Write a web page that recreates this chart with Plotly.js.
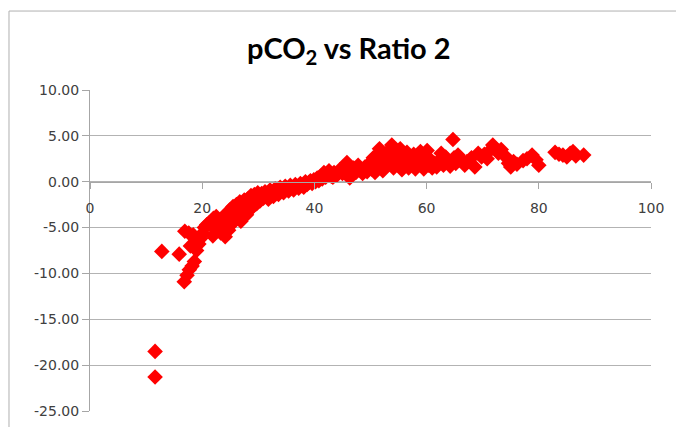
<!DOCTYPE html>
<html>
<head>
<meta charset="utf-8">
<script src="https://cdn.plot.ly/plotly-3.0.1.min.js"></script>
<style>html,body{margin:0;padding:0;background:#fff}#chart{width:676px;height:427px}</style>
</head>
<body>
<div id="chart"></div>
<script>
// Ratio 2 (x) values
var ratio2 = [
  11.6, 11.6, 12.8, 15.9, 16.8, 17.3, 17.7, 18.2, 18.6, 16.9, 17.6, 18.4, 17.9, 19.0, 19.4, 19.7, 20.1, 20.4, 20.8, 21.2, 21.6, 21.9, 22.3, 22.6, 22.0, 22.5,
  23.0, 23.3, 23.6, 23.9, 24.1, 24.3, 24.5, 24.7, 24.9, 25.1, 25.3, 25.5, 25.7, 25.9, 26.1, 26.3, 26.5, 26.7, 26.9, 27.1, 27.3, 27.5, 27.7, 27.9, 28.1, 28.3, 28.5, 28.7, 28.9, 29.1, 29.3, 29.5, 29.7, 29.9, 30.1, 30.3,
  30.6, 30.9, 31.2, 31.5, 31.8, 32.1, 32.4, 32.7, 33.0, 33.3, 33.6, 33.9, 34.2, 34.5, 34.8, 35.1, 35.4, 35.7, 36.0, 36.3, 36.6, 36.9, 37.2, 37.5, 37.8, 38.1, 38.4, 38.7, 39.0, 39.3, 39.6, 39.9, 40.2, 40.5, 40.8, 41.1, 41.4, 41.7, 42.0, 42.3, 42.6,
  43.0, 43.3, 43.5, 44.0, 44.5, 45.0, 45.5, 45.8, 46.2, 46.3, 46.6, 47.0, 47.4, 47.8, 48.2, 48.6, 49.0, 49.4, 49.8, 50.2, 50.5, 50.8,
  51.0, 51.3, 51.6, 51.9, 52.2, 52.5, 52.8, 53.1, 53.4, 53.8, 54.1, 54.4, 54.7, 55.0, 55.3, 55.6, 55.9, 56.2, 56.5, 56.8, 57.1, 57.4, 57.7, 58.0, 58.3, 58.6, 58.9, 59.2, 59.5, 59.8, 60.1, 60.4, 60.7, 61.0, 61.4, 61.8, 62.2, 62.6, 63.0, 63.4, 63.8, 64.2, 64.7, 64.9, 65.2,
  65.6, 66.2, 66.8, 67.2, 68.0, 68.6, 69.2, 69.8, 70.3, 70.8, 71.3, 71.8, 72.3, 72.8, 73.3, 73.8, 74.3, 74.6, 75.0, 75.5, 76.1, 77.2, 77.9, 78.8, 79.5, 80.0, 82.9, 83.6, 84.3, 85.0, 85.6, 86.1, 86.6, 88.0
];
// pCO2 (y) values
var pco2 = [
  -18.5, -21.3, -7.6, -7.9, -10.9, -10.2, -9.6, -9.2, -8.7, -5.4, -5.6, -5.8, -7.0, -7.5, -6.8, -6.2, -5.6, -5.0, -4.7, -4.5, -4.3, -5.9, -5.2, -4.9, -4.0, -3.8,
  -4.4, -5.6, -3.9, -4.8, -6.0, -3.5, -4.2, -5.3, -3.1, -3.8, -4.6, -2.7, -3.4, -4.1, -2.5, -3.0, -3.7, -2.2, -4.3, -2.8, -3.3, -2.0, -2.6, -3.6, -1.9, -2.4, -3.0, -1.5, -2.1, -2.7, -1.4, -1.8, -2.4, -1.2, -1.6, -2.1,
  -1.3, -1.8, -1.1, -1.5, -1.9, -0.9, -1.3, -1.6, -0.8, -1.1, -1.4, -0.6, -0.9, -1.2, -0.5, -0.8, -1.0, -0.4, -0.6, -0.9, -0.3, -0.5, -0.7, -0.2, -0.4, -0.6, 0.0, -0.3, -0.1, 0.1, -0.2, 0.2, 0.0, 0.4, 0.1, 0.6, 0.3, 1.0, 0.5, 0.8, 1.2,
  0.6, 0.5, 1.0, 0.7, 1.3, 0.9, 1.6, 2.1, 1.2, 0.4, 0.8, 1.5, 1.0, 1.8, 1.3, 0.9, 1.6, 1.1, 2.0, 1.4, 2.6, 1.0,
  1.9, 3.0, 3.6, 2.4, 1.2, 2.9, 1.7, 3.3, 2.2, 4.0, 1.5, 3.2, 2.5, 1.9, 3.6, 1.3, 2.8, 2.2, 3.2, 1.5, 2.6, 1.9, 3.0, 1.4, 2.4, 1.8, 3.3, 2.1, 1.4, 2.8, 3.4, 1.8, 2.4, 1.5, 2.0, 1.6, 2.3, 3.1, 1.8, 2.7, 2.2, 1.7, 4.6, 2.6, 2.0,
  2.9, 2.4, 1.8, 2.2, 2.6, 1.6, 3.1, 2.7, 3.0, 2.5, 3.4, 4.0, 3.6, 3.1, 3.5, 2.9, 2.6, 2.0, 1.6, 2.2, 1.9, 2.3, 2.5, 2.9, 2.4, 1.8, 3.2, 3.0, 2.9, 2.7, 3.1, 3.3, 2.8, 2.9
];
var xTickVals = [0, 20, 40, 60, 80, 100];
var yTickVals = [-25, -20, -15, -10, -5, 0, 5, 10];

var tickFont = {family: 'DejaVu Sans', size: 14, color: '#404040'};
var trace = {
  x: ratio2, y: pco2, type: 'scatter', mode: 'markers',
  marker: {symbol: 'diamond', size: 12, color: '#ff0000', line: {width: 0}},
  hoverinfo: 'x+y'
};
var layout = {
  width: 676, height: 427,
  margin: {l: 90, r: 25, t: 90, b: 16},
  paper_bgcolor: '#ffffff', plot_bgcolor: '#ffffff',
  showlegend: false,
  title: {
    text: 'pCO<sub>2</sub> vs Ratio 2',
    font: {family: 'Lato', size: 29, color: '#000000', weight: 'bold'},
    x: 0.516, xref: 'container', xanchor: 'center',
    y: 0.885, yref: 'container', yanchor: 'middle'
  },
  xaxis: {
    range: [0, 100], tickvals: xTickVals, ticktext: xTickVals.map(String),
    anchor: 'free', position: 0.7143,
    showline: true, linecolor: '#a6a6a6', linewidth: 1,
    ticks: 'outside', ticklen: 6, tickcolor: '#a6a6a6',
    ticklabelstandoff: 7,
    showgrid: false, zeroline: false,
    tickfont: tickFont, fixedrange: true
  },
  yaxis: {
    range: [-25, 10], tickvals: yTickVals, ticktext: yTickVals.map(function(v){return v.toFixed(2);}),
    showline: true, linecolor: '#a6a6a6', linewidth: 1,
    ticks: 'outside', ticklen: 7, tickcolor: '#a6a6a6',
    showgrid: true, gridcolor: '#b3b3b3', gridwidth: 1,
    zeroline: false, tickfont: tickFont, fixedrange: true
  },
  shapes: [{
    type: 'rect', xref: 'paper', yref: 'paper',
    x0: -0.1444, x1: 1.6, y0: -0.5, y1: 1.246,
    line: {color: '#b0b0b0', width: 1}, fillcolor: 'rgba(0,0,0,0)', layer: 'below'
  }]
};
Plotly.newPlot('chart', [trace], layout, {displayModeBar: false, staticPlot: true});
</script>
</body>
</html>
